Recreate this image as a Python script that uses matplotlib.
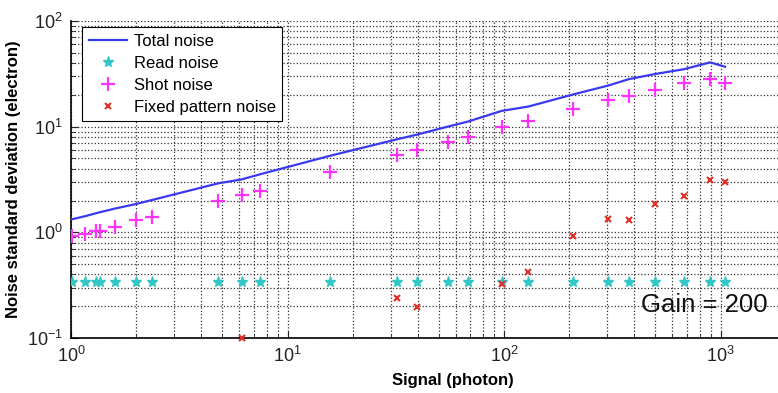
import matplotlib
matplotlib.use("Agg")
import matplotlib.pyplot as plt
import numpy as np

plt.rcParams['font.family'] = ['Liberation Sans', 'DejaVu Sans']
plt.rcParams['mathtext.fontset'] = 'custom'
plt.rcParams['mathtext.rm'] = 'Liberation Sans'

# Signal levels (photon)
signal = [1.01, 1.16, 1.31, 1.36, 1.60, 1.99, 2.36, 4.79, 6.14, 7.46, 15.7, 32.1,
          39.5, 54.9, 68.4, 97.5, 129.5, 209, 303, 378, 499, 679, 895, 1050]
total_noise = [1.33, 1.42, 1.52, 1.55, 1.68, 1.85, 2.02, 2.91, 3.17, 3.54, 5.3, 7.6,
               8.4, 10.0, 11.2, 14.1, 15.5, 20.2, 24.5, 28.2, 31.5, 35.0, 40.6, 36.9]
read_noise = [0.34] * len(signal)
shot_noise = [0.92, 0.96, 1.04, 1.04, 1.13, 1.31, 1.39, 1.99, 2.25, 2.48, 3.74, 5.39,
              6.0, 7.1, 8.03, 10.0, 11.4, 14.7, 17.9, 19.6, 22.2, 25.7, 28.2, 25.7]
fpn_signal = [6.14, 32.1, 39.5, 97.5, 129.5, 209, 303, 378, 499, 679, 895, 1050]
fpn_noise = [0.1, 0.238, 0.198, 0.325, 0.419, 0.93, 1.34, 1.31, 1.85, 2.20, 3.13, 3.01]

fig = plt.figure(figsize=(7.78, 3.93), dpi=100)
ax = fig.add_axes([71/778, 55/393, 707/778, 317/393])
ax.set_xscale('log')
ax.set_yscale('log')
ax.set_xlim(1, 10 ** (707 / 216.5))
ax.set_ylim(0.1, 100)

ax.plot(signal, total_noise, color='#3a3af0', lw=1.6, label='Total noise', zorder=4)
ax.plot(signal, read_noise, ls='none', marker='*', ms=8, color='#33c6c6',
        label='Read noise', zorder=5)
ax.plot(signal, shot_noise, ls='none', marker='+', ms=10, mew=1.6, color='#ff33ff',
        label='Shot noise', zorder=5)
ax.plot(fpn_signal, fpn_noise, ls='none', marker='x', ms=5, mew=1.5, color='#e0302a',
        label='Fixed pattern noise', zorder=5, clip_on=False)

ax.grid(True, which='both', ls=':', color='#333333', lw=0.9)
ax.set_axisbelow(True)
ax.tick_params(which='both', direction='in', labelsize=13, colors='#222222',
               top=False, right=False)
ax.tick_params(which='major', length=5, pad=6)
ax.tick_params(which='minor', length=3, labelbottom=False)
for s in ['top', 'right']:
    ax.spines[s].set_visible(False)
for s in ['left', 'bottom']:
    ax.spines[s].set_color('black')
    ax.spines[s].set_linewidth(1.2)

ax.set_xlabel('Signal (photon)', fontsize=12, fontweight='bold')
ax.set_ylabel('Noise standard deviation (electron)', fontsize=12, fontweight='bold', labelpad=4)
ax.xaxis.set_label_coords((453 - 71) / 707, -0.11)

ax.text(430, 0.205, 'Gain = 200', fontsize=18.5, va='center', ha='left', color='#111111',
        zorder=6)

leg = ax.legend(loc='upper left', bbox_to_anchor=((82 - 71) / 707, 0.981), borderaxespad=0,
                fancybox=False, edgecolor='black', fontsize=12, labelspacing=0.42,
                handlelength=2.3, handletextpad=0.4, framealpha=1)
leg.get_frame().set_linewidth(0.8)

fig.savefig('out.png', dpi=100)
